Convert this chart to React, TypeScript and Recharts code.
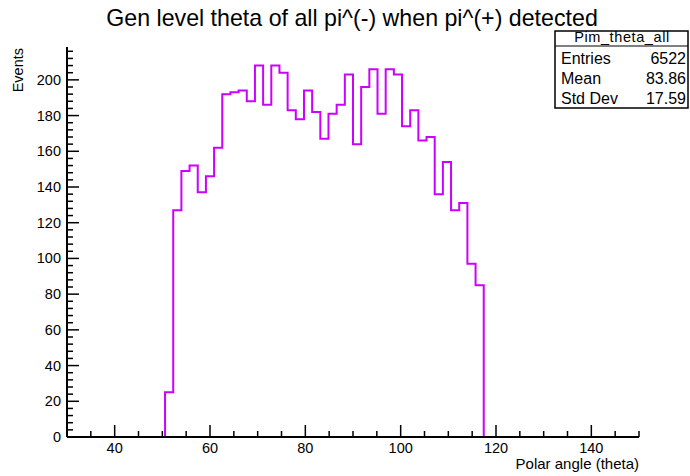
import { Line, LineChart, XAxis, YAxis } from "recharts"

// histogram binning (TH1: 70 bins over 30..150)
const HIST_MIN = 30
const HIST_MAX = 150
const N_BINS = 70

// bin contents, bin 0 .. bin 69
const COUNTS = [
  0, 0, 0, 0, 0, 0, 0, 0, 0, 0, 0, 0,
  25, 127, 149, 152, 137, 146, 162, 192, 193, 194,
  188, 208, 186, 208, 204, 183, 178, 194, 182, 167,
  181, 186, 203, 164, 196, 206, 181, 206, 203, 174,
  183, 166, 168, 136, 154, 127, 131, 97, 85,
  0, 0, 0, 0, 0, 0, 0, 0, 0, 0, 0, 0, 0, 0, 0, 0, 0, 0, 0,
]

const X_TICKS = [30, 35, 40, 45, 50, 55, 60, 65, 70, 75, 80, 85, 90, 95, 100, 105, 110, 115, 120, 125, 130, 135, 140, 145, 150]
const X_LABELS = [40, 60, 80, 100, 120, 140]
const Y_TICKS = [
  0, 4, 8, 12, 16, 20, 24, 28, 32, 36, 40, 44, 48, 52, 56, 60, 64, 68, 72, 76, 80,
  84, 88, 92, 96, 100, 104, 108, 112, 116, 120, 124, 128, 132, 136, 140, 144, 148,
  152, 156, 160, 164, 168, 172, 176, 180, 184, 188, 192, 196, 200, 204, 208, 212, 216,
]
const Y_MAX = 218.4

const STATS = [
  { name: "Entries", value: "6522" },
  { name: "Mean", value: "83.86" },
  { name: "Std Dev", value: "17.59" },
]

const FONT = "'Liberation Sans', Arial, Helvetica, sans-serif"
const LINE_COLOR = "#cc00ff"

const binWidth = (HIST_MAX - HIST_MIN) / N_BINS
const histData = COUNTS.map((c, i) => ({ x: HIST_MIN + i * binWidth, count: c }))
histData.push({ x: HIST_MAX, count: COUNTS[COUNTS.length - 1] })

// ROOT-style ticks: drawn inside the frame, long for major, short for minor
function XTick({ x, y, payload }: { x?: number; y?: number; payload?: { value: number } }) {
  const v = payload?.value ?? 0
  const major = v % 20 === 0
  return (
    <g>
      <line x1={x} x2={x} y1={y} y2={(y ?? 0) - (major ? 12 : 6)} stroke="#000" strokeWidth={1.5} />
      {X_LABELS.includes(v) && (
        <text x={x} y={(y ?? 0) + 16} textAnchor="middle" fontSize={14.5} fontFamily={FONT} fill="#000">
          {v}
        </text>
      )}
    </g>
  )
}

function YTick({ x, y, payload }: { x?: number; y?: number; payload?: { value: number } }) {
  const v = payload?.value ?? 0
  const major = v % 20 === 0
  return (
    <g>
      <line x1={x} x2={(x ?? 0) + (major ? 12 : 6)} y1={y} y2={y} stroke="#000" strokeWidth={1.5} />
      {major && (
        <text x={(x ?? 0) - 6} y={(y ?? 0) + 5} textAnchor="end" fontSize={14.5} fontFamily={FONT} fill="#000">
          {v}
        </text>
      )}
    </g>
  )
}

export default function App() {
  return (
    <div style={{ position: "absolute", left: 0, top: 0, width: 690, height: 476, background: "#fff" }}>
      <LineChart
        width={690}
        height={476}
        data={histData}
        margin={{ top: 47, right: 51, bottom: 0, left: 0 }}
      >
        <XAxis
          dataKey="x"
          type="number"
          domain={[HIST_MIN, HIST_MAX]}
          ticks={X_TICKS}
          interval={0}
          tick={<XTick />}
          tickLine={false}
          tickSize={0}
          tickMargin={0}
          height={39}
          axisLine={{ stroke: "#000", strokeWidth: 2 }}
        />
        <XAxis
          xAxisId="top"
          orientation="top"
          type="number"
          domain={[HIST_MIN, HIST_MAX]}
          tick={false}
          tickLine={false}
          height={0}
          axisLine={{ stroke: "#000", strokeWidth: 1.5 }}
        />
        <YAxis
          type="number"
          domain={[0, Y_MAX]}
          ticks={Y_TICKS}
          interval={0}
          tick={<YTick />}
          tickLine={false}
          tickSize={0}
          tickMargin={0}
          width={67}
          allowDataOverflow
          axisLine={{ stroke: "#000", strokeWidth: 2 }}
        />
        <YAxis
          yAxisId="right"
          orientation="right"
          type="number"
          domain={[0, Y_MAX]}
          tick={false}
          tickLine={false}
          width={0}
          axisLine={{ stroke: "#000", strokeWidth: 1.5 }}
        />
        <Line
          type="stepAfter"
          dataKey="count"
          stroke={LINE_COLOR}
          strokeWidth={2}
          dot={false}
          isAnimationActive={false}
        />
      </LineChart>
      <svg width={690} height={476} style={{ position: "absolute", left: 0, top: 0, pointerEvents: "none" }}>
        <text x={352} y={26} textAnchor="middle" fontSize={23.2} fontFamily={FONT} fill="#000">
          Gen level theta of all pi^(-) when pi^(+) detected
        </text>
        <text x={639} y={469} textAnchor="end" fontSize={15} fontFamily={FONT} fill="#000">
          Polar angle (theta)
        </text>
        <text
          x={23}
          y={48}
          textAnchor="end"
          fontSize={14.5}
          fontFamily={FONT}
          fill="#000"
          transform="rotate(-90 23 48)"
        >
          Events
        </text>
        {/* stats box */}
        <rect x={555} y={31} width={133} height={77} fill="#fff" stroke="#000" strokeWidth={1.5} />
        <line x1={555} x2={688} y1={46} y2={46} stroke="#000" strokeWidth={1} />
        <text x={622} y={41.5} textAnchor="middle" fontSize={14.5} letterSpacing={0.6} fontFamily={FONT} fill="#000">
          Pim_theta_all
        </text>
        {STATS.map((s, i) => (
          <g key={s.name}>
            <text x={561} y={64 + i * 20} fontSize={16} fontFamily={FONT} fill="#000">
              {s.name}
            </text>
            <text x={686} y={64 + i * 20} textAnchor="end" fontSize={16} fontFamily={FONT} fill="#000">
              {s.value}
            </text>
          </g>
        ))}
      </svg>
    </div>
  )
}
